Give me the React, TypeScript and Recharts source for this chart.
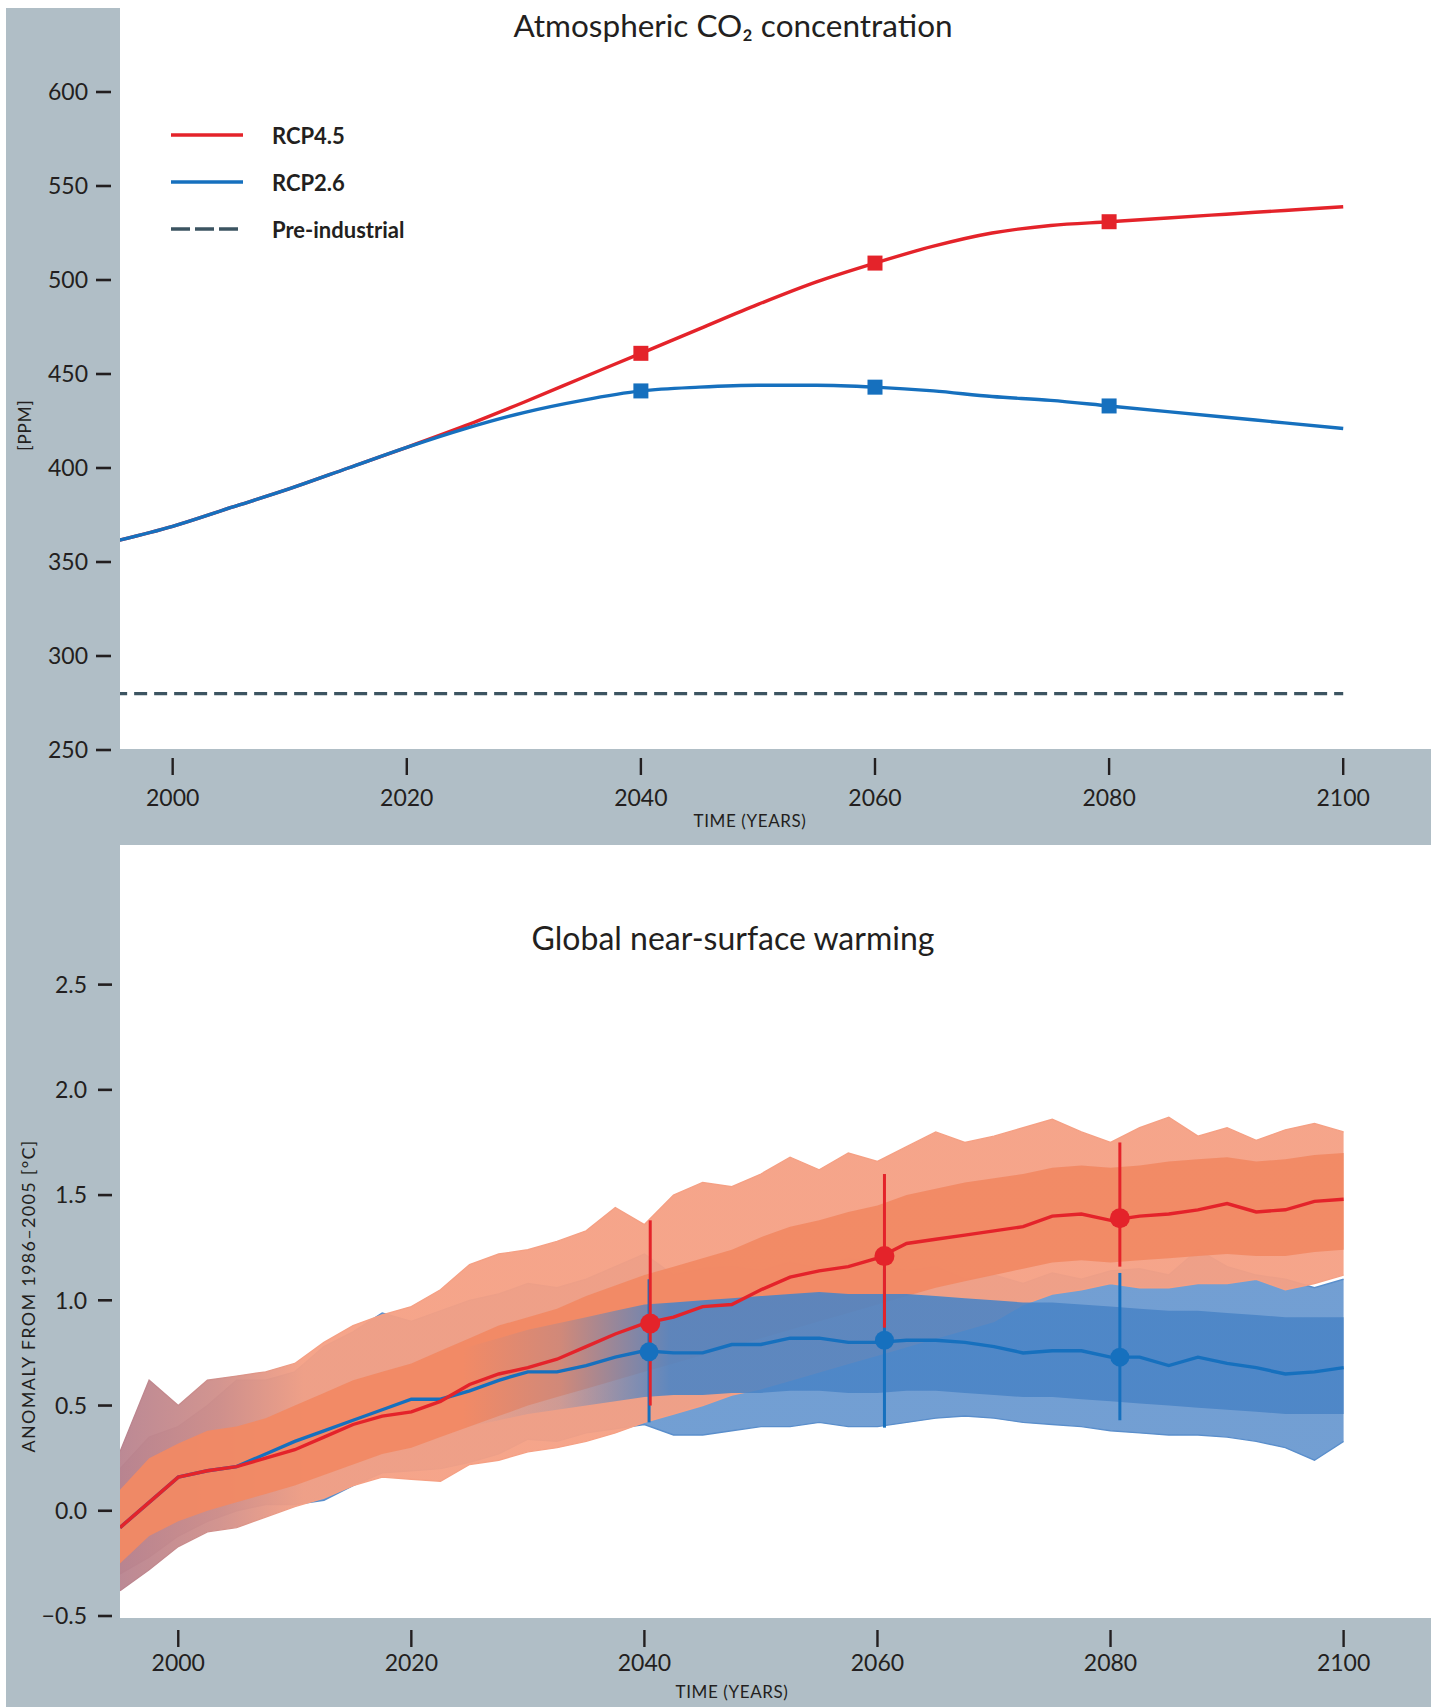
import React from 'react'
import {
  ComposedChart, Line, Area, Scatter, ErrorBar, XAxis, YAxis,
} from 'recharts'

const GREY = '#b0bec6'
const INK = '#231f20'
const FONT = 'Lato, "Open Sans", sans-serif'

const RED = '#e4232a'
const BLUE = '#1670be'
const PRE_COLOR = '#3c5461'

// ---- CO2 panel ----
const CO2_YEARS = [1995, 2000, 2005, 2010, 2015, 2020, 2025, 2030, 2035, 2040, 2045, 2050, 2055, 2060, 2065, 2070, 2075, 2080, 2085, 2090, 2095, 2100]
const CO2_RCP45 = [361, 369, 379, 389, 400, 411, 422.5, 435, 448, 461, 474, 487, 499, 509, 518, 525, 529, 531, 533, 535, 537, 539]
const CO2_RCP26 = [361, 369, 379, 389, 400, 411, 421, 429.5, 436, 441, 443, 444, 444, 443, 441, 438, 436, 433, 430, 427, 424, 421]
const PREINDUSTRIAL = 280
const CO2_MARKER_YEARS = [2040, 2060, 2080]
const CO2_TICKS = [250, 300, 350, 400, 450, 500, 550, 600]
const YEAR_TICKS = [2000, 2020, 2040, 2060, 2080, 2100]
const LEGEND_NAMES = ['RCP4.5', 'RCP2.6', 'Pre-industrial']
const LEGEND_COLORS = [RED, BLUE, PRE_COLOR]

// ---- warming panel ----
const TEMP_YEARS = [1995, 1997.5, 2000, 2002.5, 2005, 2007.5, 2010, 2012.5, 2015, 2017.5, 2020, 2022.5, 2025, 2027.5, 2030, 2032.5, 2035, 2037.5, 2040, 2042.5, 2045, 2047.5, 2050, 2052.5, 2055, 2057.5, 2060, 2062.5, 2065, 2067.5, 2070, 2072.5, 2075, 2077.5, 2080, 2082.5, 2085, 2087.5, 2090, 2092.5, 2095, 2097.5, 2100]
const RCP45_MEAN = [-0.08, 0.04, 0.16, 0.19, 0.21, 0.25, 0.29, 0.35, 0.41, 0.45, 0.47, 0.52, 0.60, 0.65, 0.68, 0.72, 0.78, 0.84, 0.89, 0.92, 0.97, 0.98, 1.05, 1.11, 1.14, 1.16, 1.20, 1.27, 1.29, 1.31, 1.33, 1.35, 1.40, 1.41, 1.38, 1.40, 1.41, 1.43, 1.46, 1.42, 1.43, 1.47, 1.48]
const RCP26_MEAN = [-0.08, 0.04, 0.16, 0.19, 0.21, 0.27, 0.33, 0.38, 0.43, 0.48, 0.53, 0.53, 0.57, 0.62, 0.66, 0.66, 0.69, 0.73, 0.76, 0.75, 0.75, 0.79, 0.79, 0.82, 0.82, 0.80, 0.80, 0.81, 0.81, 0.80, 0.78, 0.75, 0.76, 0.76, 0.73, 0.73, 0.69, 0.73, 0.70, 0.68, 0.65, 0.66, 0.68]
// ensemble spread: outer envelope and dense core
const RCP45_LO = [-0.38, -0.28, -0.17, -0.10, -0.08, -0.03, 0.02, 0.06, 0.12, 0.16, 0.15, 0.14, 0.22, 0.24, 0.28, 0.30, 0.33, 0.37, 0.42, 0.46, 0.50, 0.55, 0.58, 0.62, 0.66, 0.70, 0.74, 0.78, 0.82, 0.86, 0.90, 0.98, 1.03, 1.05, 1.08, 1.06, 1.06, 1.08, 1.08, 1.10, 1.05, 1.08, 1.12]
const RCP45_HI = [0.28, 0.62, 0.50, 0.62, 0.64, 0.66, 0.70, 0.80, 0.88, 0.93, 0.97, 1.05, 1.17, 1.22, 1.24, 1.28, 1.33, 1.44, 1.36, 1.50, 1.56, 1.54, 1.60, 1.68, 1.62, 1.70, 1.66, 1.73, 1.80, 1.75, 1.78, 1.82, 1.86, 1.80, 1.75, 1.82, 1.87, 1.78, 1.82, 1.76, 1.81, 1.84, 1.80]
const RCP45_CORE_LO = [-0.25, -0.12, -0.05, 0.00, 0.04, 0.08, 0.12, 0.17, 0.22, 0.27, 0.30, 0.35, 0.40, 0.45, 0.50, 0.54, 0.58, 0.62, 0.66, 0.70, 0.74, 0.78, 0.82, 0.86, 0.90, 0.94, 0.98, 1.02, 1.06, 1.09, 1.12, 1.15, 1.18, 1.19, 1.18, 1.19, 1.20, 1.21, 1.22, 1.21, 1.21, 1.23, 1.24]
const RCP45_CORE_HI = [0.10, 0.25, 0.32, 0.38, 0.40, 0.44, 0.50, 0.56, 0.62, 0.66, 0.70, 0.76, 0.82, 0.88, 0.92, 0.96, 1.02, 1.07, 1.12, 1.16, 1.20, 1.24, 1.30, 1.35, 1.38, 1.42, 1.45, 1.50, 1.53, 1.56, 1.58, 1.60, 1.63, 1.64, 1.63, 1.64, 1.66, 1.67, 1.68, 1.66, 1.67, 1.69, 1.70]
const RCP26_LO = [-0.30, -0.22, -0.12, -0.05, 0.00, 0.03, 0.03, 0.05, 0.12, 0.18, 0.19, 0.20, 0.23, 0.27, 0.34, 0.33, 0.37, 0.39, 0.41, 0.36, 0.36, 0.38, 0.40, 0.40, 0.42, 0.40, 0.40, 0.42, 0.44, 0.45, 0.44, 0.42, 0.41, 0.40, 0.38, 0.37, 0.36, 0.36, 0.35, 0.33, 0.30, 0.24, 0.33]
const RCP26_HI = [0.20, 0.35, 0.40, 0.50, 0.62, 0.62, 0.66, 0.78, 0.85, 0.94, 0.90, 0.95, 1.00, 1.03, 1.08, 1.06, 1.10, 1.16, 1.22, 1.12, 1.15, 1.16, 1.14, 1.18, 1.15, 1.20, 1.17, 1.14, 1.16, 1.10, 1.12, 1.08, 1.13, 1.10, 1.14, 1.15, 1.12, 1.24, 1.16, 1.12, 1.10, 1.06, 1.10]
const RCP26_CORE_LO = [-0.20, -0.10, -0.02, 0.02, 0.06, 0.10, 0.14, 0.19, 0.24, 0.28, 0.32, 0.36, 0.40, 0.43, 0.46, 0.48, 0.50, 0.52, 0.54, 0.55, 0.55, 0.56, 0.56, 0.57, 0.57, 0.56, 0.56, 0.57, 0.57, 0.56, 0.55, 0.54, 0.54, 0.53, 0.52, 0.51, 0.50, 0.49, 0.48, 0.47, 0.46, 0.46, 0.46]
const RCP26_CORE_HI = [0.10, 0.22, 0.30, 0.34, 0.38, 0.44, 0.50, 0.55, 0.60, 0.65, 0.70, 0.74, 0.78, 0.82, 0.86, 0.89, 0.92, 0.95, 0.98, 0.99, 1.00, 1.01, 1.02, 1.03, 1.04, 1.03, 1.03, 1.03, 1.02, 1.01, 1.00, 0.99, 0.99, 0.98, 0.97, 0.96, 0.95, 0.95, 0.94, 0.93, 0.92, 0.92, 0.92]

// 20-year means with model spread
const RCP45_MARK_YEARS = [2040.5, 2060.6, 2080.8]
const RCP45_MARK = [0.89, 1.21, 1.39]
const RCP45_BAR_LO = [0.50, 0.87, 1.16]
const RCP45_BAR_HI = [1.38, 1.60, 1.75]
const RCP26_MARK_YEARS = [2040.4, 2060.6, 2080.8]
const RCP26_MARK = [0.755, 0.81, 0.73]
const RCP26_BAR_LO = [0.42, 0.395, 0.43]
const RCP26_BAR_HI = [1.10, 1.15, 1.13]
const TEMP_TICKS = [-0.5, 0, 0.5, 1, 1.5, 2, 2.5]

const co2Rows = CO2_YEARS.map((year, i) => ({
  year, rcp45: CO2_RCP45[i], rcp26: CO2_RCP26[i], pre: PREINDUSTRIAL,
}))

const tempRows = TEMP_YEARS.map((year, i) => ({
  year,
  m45: RCP45_MEAN[i],
  m26: RCP26_MEAN[i],
  r45: [RCP45_LO[i], RCP45_HI[i]],
  c45: [RCP45_CORE_LO[i], RCP45_CORE_HI[i]],
  r26: [RCP26_LO[i], RCP26_HI[i]],
  c26: [RCP26_CORE_LO[i], RCP26_CORE_HI[i]],
}))

const marks = (years: number[], vals: number[], lo: number[], hi: number[]) =>
  years.map((year, i) => ({ year, value: vals[i], err: [vals[i] - lo[i], hi[i] - vals[i]] }))
const marks45 = marks(RCP45_MARK_YEARS, RCP45_MARK, RCP45_BAR_LO, RCP45_BAR_HI)
const marks26 = marks(RCP26_MARK_YEARS, RCP26_MARK, RCP26_BAR_LO, RCP26_BAR_HI)

const makeYTick = (fmt: (v: number) => string, d1: number, d2: number, tx: number) => (p: any) => (
  <g>
    <line x1={p.x - d1} x2={p.x - d2} y1={p.y} y2={p.y} stroke={INK} strokeWidth={2.6} />
    <text x={p.x - tx} y={p.y} dy="0.36em" textAnchor="end" fontSize={23} fill={INK} fontFamily={FONT}>
      {fmt(p.payload.value)}
    </text>
  </g>
)

const makeXTick = (t1: number, t2: number, base: number) => (p: any) => (
  <g>
    <line x1={p.x} x2={p.x} y1={p.y + t1} y2={p.y + t2} stroke={INK} strokeWidth={2.4} />
    <text x={p.x} y={p.y + base} textAnchor="middle" fontSize={23} fill={INK} fontFamily={FONT}>
      {p.payload.value}
    </text>
  </g>
)

const squareDot = (color: string) => (p: any) => {
  if (!CO2_MARKER_YEARS.includes(p.payload.year)) return <g key={p.index} />
  return <rect key={p.index} x={p.cx - 7.5} y={p.cy - 7.5} width={15} height={15} fill={color} />
}

const circle = (color: string, r: number) => (p: any) => (
  <circle cx={p.cx} cy={p.cy} r={r} fill={color} />
)

function Co2Legend() {
  return (
    <div style={{ position: 'absolute', left: 171, top: 111.5, fontFamily: FONT }}>
      {LEGEND_NAMES.map((name, i) => (
        <div key={name} style={{ display: 'flex', alignItems: 'center', height: 47 }}>
          <svg width={72} height={6}>
            <line x1={0} x2={72} y1={3} y2={3} stroke={LEGEND_COLORS[i]} strokeWidth={3.5}
              strokeDasharray={i === 2 ? '19 5' : undefined} />
          </svg>
          <span style={{ marginLeft: 29, fontWeight: 700, fontSize: 22, color: INK }}>{name}</span>
        </div>
      ))}
    </div>
  )
}

const abs = (left: number, top: number, width: number, height: number, bg: string): React.CSSProperties => ({
  position: 'absolute', left, top, width, height, background: bg,
})

const textAt = (x: number, y: number, size: number, extra: React.CSSProperties = {}): React.CSSProperties => ({
  position: 'absolute', left: x, top: y, transform: 'translate(-50%, -50%)', whiteSpace: 'nowrap',
  fontFamily: FONT, fontSize: size, color: INK, lineHeight: 1, ...extra,
})

export default function App() {
  const fmtTemp = (v: number) => v.toFixed(1).replace('-', '\u2212')
  return (
    <div style={{ position: 'absolute', left: 0, top: 0, width: 1431, height: 1707, background: '#fff', overflow: 'hidden' }}>
      <div style={abs(6, 8, 114, 741, GREY)} />
      <div style={abs(6, 749, 1425, 96, GREY)} />
      <div style={abs(6, 845, 114, 862, GREY)} />
      <div style={abs(6, 1618, 1425, 89, GREY)} />

      {/* top: CO2 */}
      <div style={{ position: 'absolute', left: 0, top: 0 }}>
        <ComposedChart width={1431} height={845} data={co2Rows} margin={{ top: 92, right: 0, bottom: 0, left: 0 }}>
          <XAxis dataKey="year" type="number" domain={[1995.5, 2107.5]} ticks={YEAR_TICKS} allowDataOverflow
            height={95} axisLine={false} tickLine={false} tickSize={0} tickMargin={0}
            tick={makeXTick(8, 25, 56)} interval={0} />
          <YAxis type="number" domain={[250, 600]} ticks={CO2_TICKS} width={120}
            axisLine={false} tickLine={false} tickSize={0} tickMargin={0}
            tick={makeYTick(v => String(v), 24, 9, 32)} interval={0} />
          <Line dataKey="pre" name="Pre-industrial" stroke={PRE_COLOR} strokeWidth={3.2} strokeDasharray="13 7"
            dot={false} activeDot={false} isAnimationActive={false} />
          <Line dataKey="rcp45" name="RCP4.5" type="monotone" stroke={RED} strokeWidth={3.4}
            dot={squareDot(RED)} activeDot={false} isAnimationActive={false} />
          <Line dataKey="rcp26" name="RCP2.6" type="monotone" stroke={BLUE} strokeWidth={3.4}
            dot={squareDot(BLUE)} activeDot={false} isAnimationActive={false} />
        </ComposedChart>
      </div>
      <Co2Legend />
      <div style={textAt(733, 26, 31.5)}>Atmospheric CO₂ concentration</div>
      <div style={textAt(750, 820, 17, { letterSpacing: 0.6 })}>TIME (YEARS)</div>
      <div style={textAt(24, 425, 17, { transform: 'translate(-50%, -50%) rotate(-90deg)', letterSpacing: 1 })}>[PPM]</div>

      {/* bottom: warming */}
      <div style={{ position: 'absolute', left: 0, top: 845 }}>
        <ComposedChart width={1431} height={862} data={tempRows} margin={{ top: 87, right: 0, bottom: 0, left: 0 }}>
          <defs>
            <linearGradient id="redOuter" x1="0" y1="0" x2="1" y2="0">
              <stop offset="0" stopColor="#b8838f" />
              <stop offset="0.08" stopColor="#d08f8a" />
              <stop offset="0.15" stopColor="#f5a084" />
              <stop offset="1" stopColor="#f5a084" />
            </linearGradient>
            <linearGradient id="blueOuter" x1="0" y1="0" x2="1" y2="0">
              <stop offset="0" stopColor="#ad8493" />
              <stop offset="0.08" stopColor="#9487ad" />
              <stop offset="0.14" stopColor="#5a8ecb" />
              <stop offset="1" stopColor="#5a8ecb" />
            </linearGradient>
            <linearGradient id="blueCore" x1="0" y1="0" x2="1" y2="0">
              <stop offset="0" stopColor="#4a84c6" stopOpacity={0} />
              <stop offset="0.28" stopColor="#4a84c6" stopOpacity={0} />
              <stop offset="0.36" stopColor="#4a84c6" stopOpacity={0.2} />
              <stop offset="0.45" stopColor="#4a84c6" stopOpacity={0.88} />
              <stop offset="1" stopColor="#4a84c6" stopOpacity={0.88} />
            </linearGradient>
          </defs>
          <XAxis dataKey="year" type="number" domain={[1995, 2107.5]} ticks={YEAR_TICKS} allowDataOverflow
            height={91} axisLine={false} tickLine={false} tickSize={0} tickMargin={0}
            tick={makeXTick(14, 31, 55)} interval={0} />
          <YAxis type="number" domain={[-0.5, 2.75]} ticks={TEMP_TICKS} width={120}
            axisLine={false} tickLine={false} tickSize={0} tickMargin={0}
            tick={makeYTick(fmtTemp, 22, 8, 33)} interval={0} />
          <Area dataKey="r26" type="linear" fill="url(#blueOuter)" fillOpacity={0.85}
            stroke="url(#blueOuter)" strokeWidth={1.4} activeDot={false} isAnimationActive={false} />
          <Area dataKey="r45" type="linear" fill="url(#redOuter)" fillOpacity={0.95}
            stroke="url(#redOuter)" strokeWidth={1.4} activeDot={false} isAnimationActive={false} />
          <Area dataKey="c45" type="linear" fill="#f18964" fillOpacity={0.95}
            stroke="none" activeDot={false} isAnimationActive={false} />
          <Area dataKey="c26" type="linear" fill="url(#blueCore)" fillOpacity={1}
            stroke="none" activeDot={false} isAnimationActive={false} />
          <Line dataKey="m26" type="linear" stroke={BLUE} strokeWidth={3.4} dot={false} activeDot={false} isAnimationActive={false} />
          <Line dataKey="m45" type="linear" stroke={RED} strokeWidth={3.4} dot={false} activeDot={false} isAnimationActive={false} />
          <Scatter data={marks26} dataKey="value" fill={BLUE} shape={circle(BLUE, 9.5)} isAnimationActive={false}>
            <ErrorBar dataKey="err" direction="y" width={0} stroke={BLUE} strokeWidth={3} />
          </Scatter>
          <Scatter data={marks45} dataKey="value" fill={RED} shape={circle(RED, 10)} isAnimationActive={false}>
            <ErrorBar dataKey="err" direction="y" width={0} stroke={RED} strokeWidth={3} />
          </Scatter>
        </ComposedChart>
      </div>
      <div style={textAt(733, 938, 32)}>Global near-surface warming</div>
      <div style={textAt(732, 1691, 17, { letterSpacing: 0.6 })}>TIME (YEARS)</div>
      <div style={textAt(28, 1296, 18, { transform: 'translate(-50%, -50%) rotate(-90deg)', letterSpacing: 1.3 })}>
        ANOMALY FROM 1986–2005 [°C]
      </div>
    </div>
  )
}
